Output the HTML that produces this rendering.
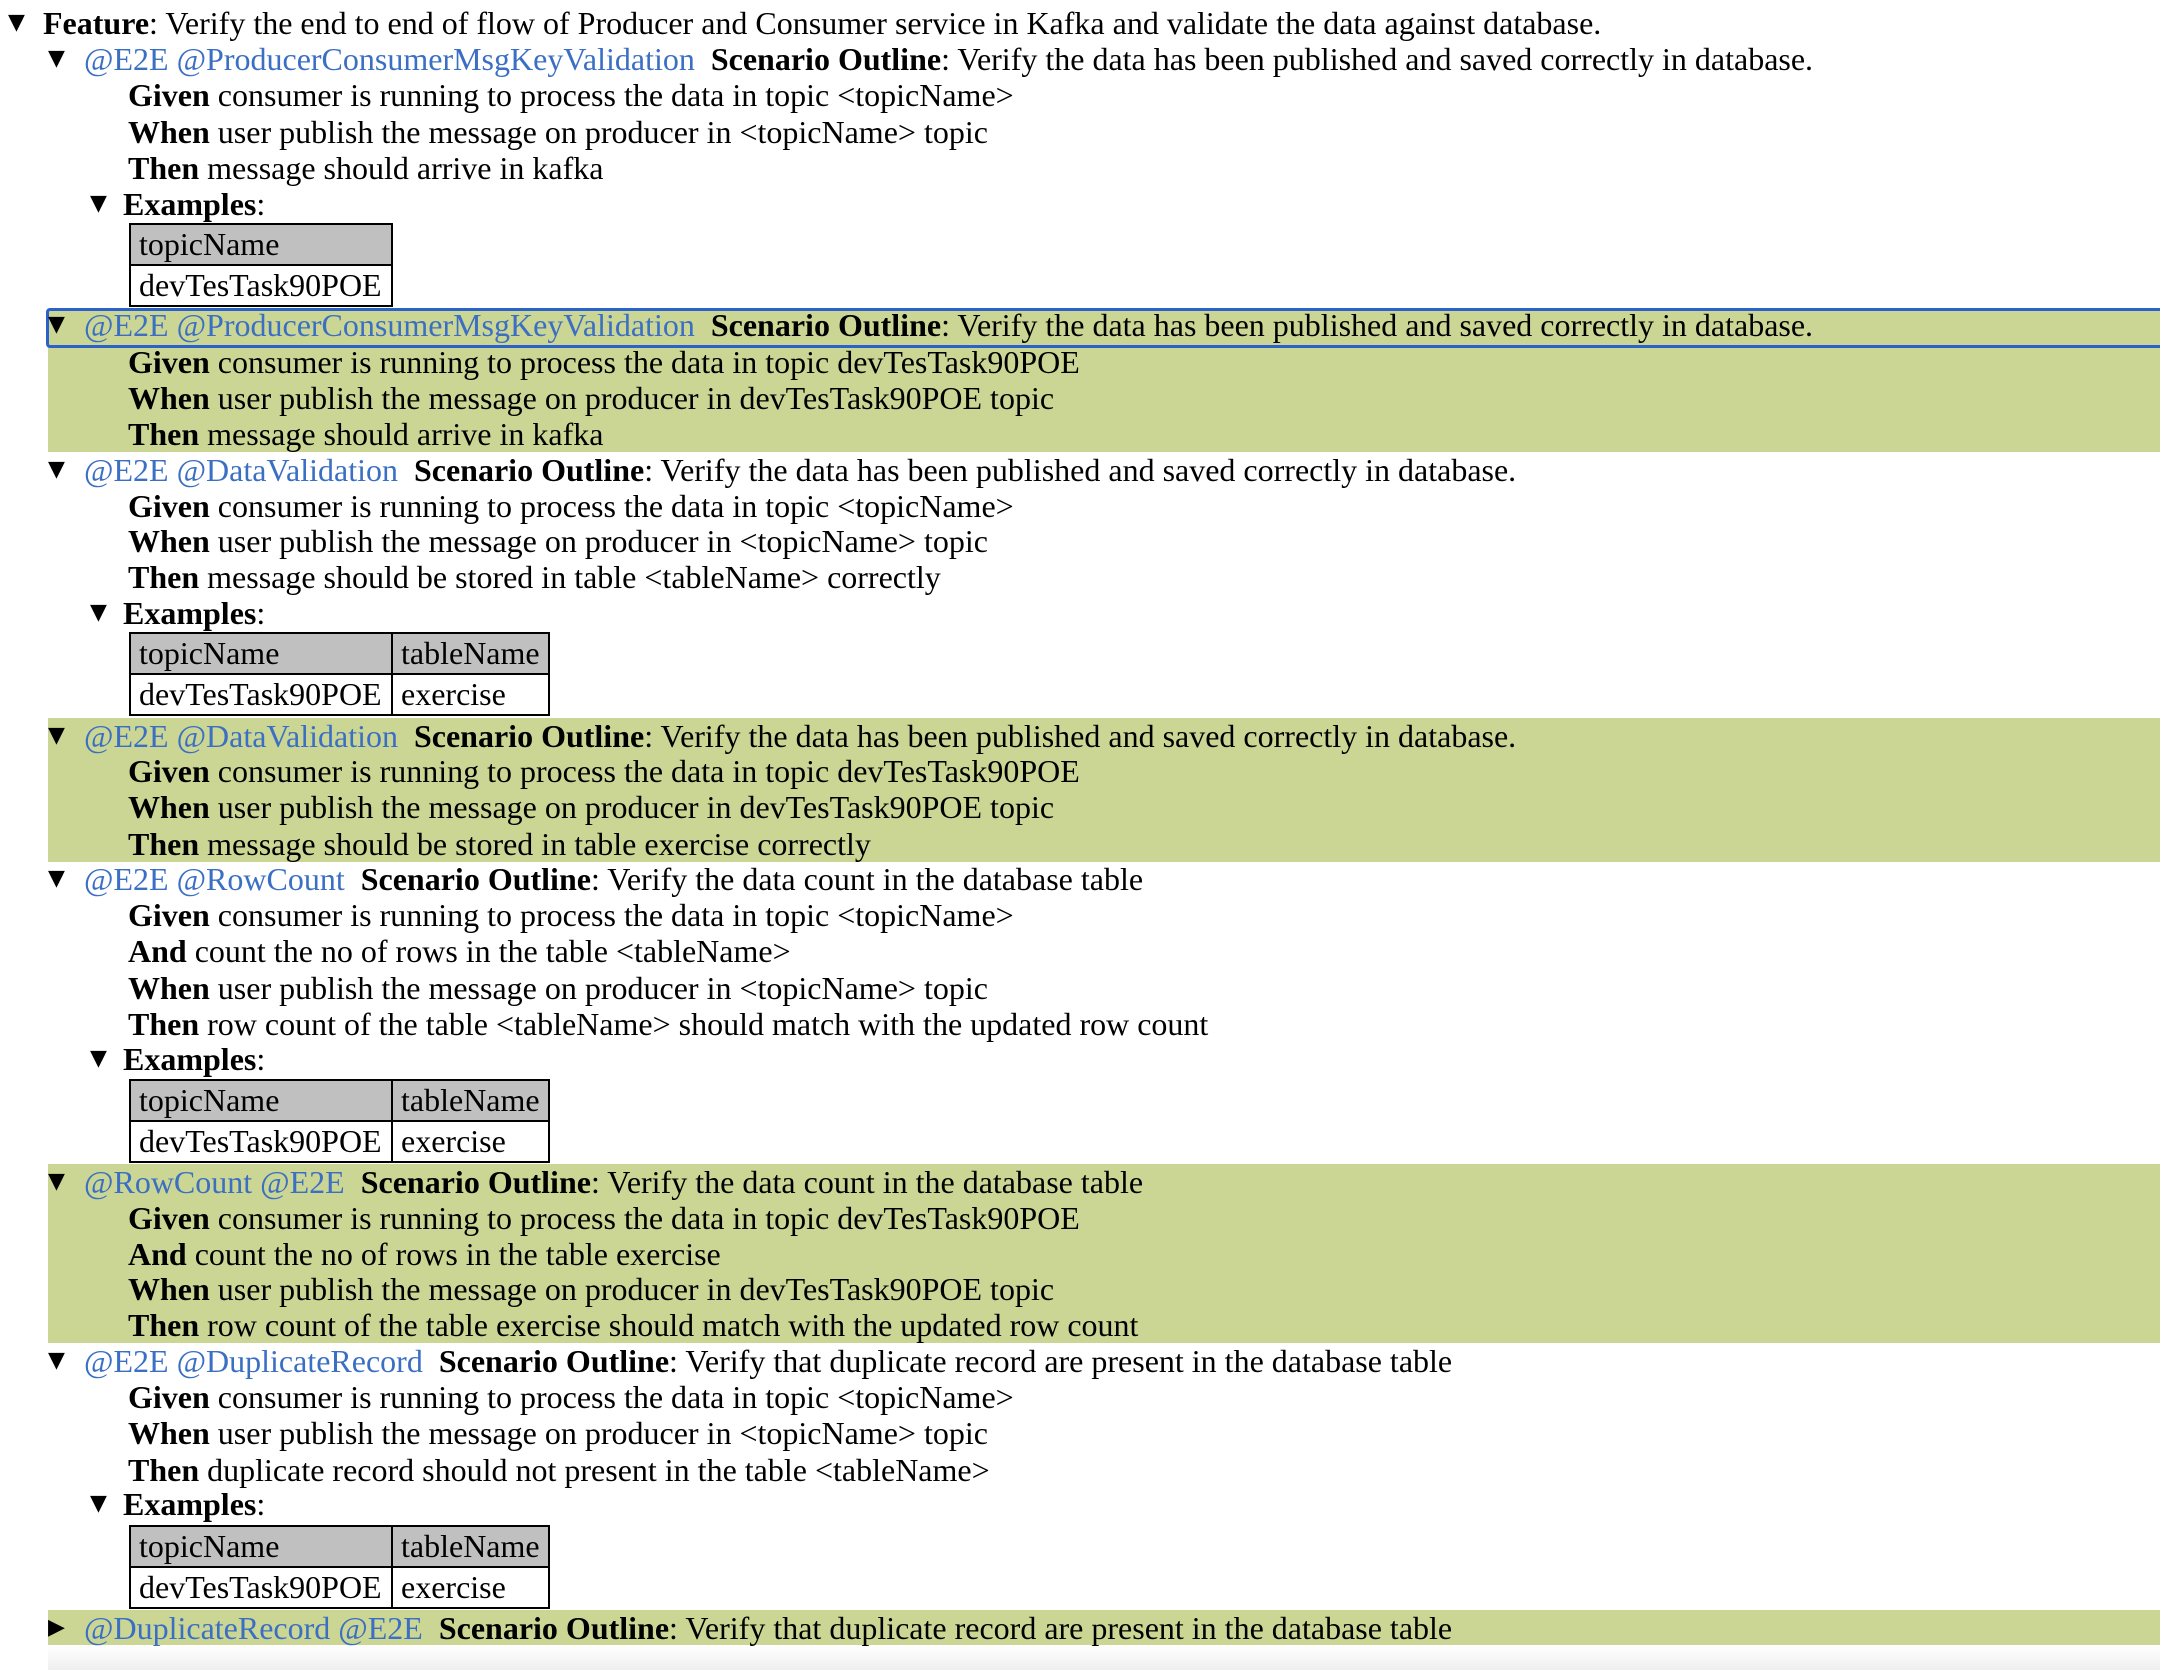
<!DOCTYPE html>
<html><head><meta charset="utf-8"><style>
html,body{margin:0;padding:0;background:#fff;width:2160px;height:1670px;overflow:hidden;position:relative}
body{font-family:"Liberation Serif","Times New Roman",serif;font-size:32px;color:#000}
.ln{position:absolute;height:36px;line-height:36px;white-space:nowrap}
.tri{position:absolute;font-family:"DejaVu Sans",sans-serif;font-size:22px;line-height:36px}
.tag{color:#3b6fc4}
b{font-weight:bold}
.band{position:absolute;left:48px;right:0;background:#cbd694}
table{position:absolute;border-collapse:collapse;left:129px}
td{border:2px solid #000;padding:0 8px;height:39px;line-height:39px;font-size:32px;box-sizing:border-box}
tr.h td{background:#c0c0c0}
</style></head><body>
<div class="band" style="top:309px;height:143px"></div>
<div class="band" style="top:718px;height:144px"></div>
<div class="band" style="top:1164px;height:179px"></div>
<div class="band" style="top:1610px;height:35px"></div>
<div style="position:absolute;left:46px;right:-4px;top:308px;height:34px;border:3px solid #2a62c9;border-radius:4px"></div>
<div style="position:absolute;left:48px;right:0;top:1645px;height:25px;background:linear-gradient(#fff,#efefef)"></div>
<div id="root"></div>
<script>
const root=document.getElementById('root');
const lines=[
[23,'feat','<b>Feature</b>: Verify the end to end of flow of Producer and Consumer service in Kafka and validate the data against database.'],
[59,'scen','<span class="tag">@E2E @ProducerConsumerMsgKeyValidation</span>&nbsp; <b>Scenario Outline</b>: Verify the data has been published and saved correctly in database.'],
[95,'step','<b>Given</b> consumer is running to process the data in topic &lt;topicName&gt;'],
[132,'step','<b>When</b> user publish the message on producer in &lt;topicName&gt; topic'],
[168,'step','<b>Then</b> message should arrive in kafka'],
[204,'ex','<b>Examples</b>:'],
[325,'scen','<span class="tag">@E2E @ProducerConsumerMsgKeyValidation</span>&nbsp; <b>Scenario Outline</b>: Verify the data has been published and saved correctly in database.'],
[362,'step','<b>Given</b> consumer is running to process the data in topic devTesTask90POE'],
[398,'step','<b>When</b> user publish the message on producer in devTesTask90POE topic'],
[434,'step','<b>Then</b> message should arrive in kafka'],
[470,'scen','<span class="tag">@E2E @DataValidation</span>&nbsp; <b>Scenario Outline</b>: Verify the data has been published and saved correctly in database.'],
[506,'step','<b>Given</b> consumer is running to process the data in topic &lt;topicName&gt;'],
[541,'step','<b>When</b> user publish the message on producer in &lt;topicName&gt; topic'],
[577,'step','<b>Then</b> message should be stored in table &lt;tableName&gt; correctly'],
[613,'ex','<b>Examples</b>:'],
[736,'scen','<span class="tag">@E2E @DataValidation</span>&nbsp; <b>Scenario Outline</b>: Verify the data has been published and saved correctly in database.'],
[771,'step','<b>Given</b> consumer is running to process the data in topic devTesTask90POE'],
[807,'step','<b>When</b> user publish the message on producer in devTesTask90POE topic'],
[844,'step','<b>Then</b> message should be stored in table exercise correctly'],
[879,'scen','<span class="tag">@E2E @RowCount</span>&nbsp; <b>Scenario Outline</b>: Verify the data count in the database table'],
[915,'step','<b>Given</b> consumer is running to process the data in topic &lt;topicName&gt;'],
[951,'step','<b>And</b> count the no of rows in the table &lt;tableName&gt;'],
[988,'step','<b>When</b> user publish the message on producer in &lt;topicName&gt; topic'],
[1024,'step','<b>Then</b> row count of the table &lt;tableName&gt; should match with the updated row count'],
[1059,'ex','<b>Examples</b>:'],
[1182,'scen','<span class="tag">@RowCount @E2E</span>&nbsp; <b>Scenario Outline</b>: Verify the data count in the database table'],
[1218,'step','<b>Given</b> consumer is running to process the data in topic devTesTask90POE'],
[1254,'step','<b>And</b> count the no of rows in the table exercise'],
[1289,'step','<b>When</b> user publish the message on producer in devTesTask90POE topic'],
[1325,'step','<b>Then</b> row count of the table exercise should match with the updated row count'],
[1361,'scen','<span class="tag">@E2E @DuplicateRecord</span>&nbsp; <b>Scenario Outline</b>: Verify that duplicate record are present in the database table'],
[1397,'step','<b>Given</b> consumer is running to process the data in topic &lt;topicName&gt;'],
[1433,'step','<b>When</b> user publish the message on producer in &lt;topicName&gt; topic'],
[1470,'step','<b>Then</b> duplicate record should not present in the table &lt;tableName&gt;'],
[1504,'ex','<b>Examples</b>:'],
[1628,'scenc','<span class="tag">@DuplicateRecord @E2E</span>&nbsp; <b>Scenario Outline</b>: Verify that duplicate record are present in the database table']
];
const xText={feat:43,scen:84,scenc:84,step:128,ex:123};
const xTri={feat:8,scen:48,scenc:48,ex:90};
for(const [cy,t,html] of lines){
  if(xTri[t]!==undefined){
    const tr=document.createElement('div');
    tr.className='tri';
    tr.style.left=xTri[t]+'px';tr.style.top=(cy-18)+'px';
    tr.textContent=t==='scenc'?'▶':'▼';
    
    
    root.appendChild(tr);
  }
  const d=document.createElement('div');
  d.className='ln';
  d.style.left=xText[t]+'px';d.style.top=(cy-18)+'px';
  d.innerHTML=html;
  
  
  root.appendChild(d);
}
const tables=[[223,false],[632,true],[1079,true],[1525,true]];
for(const [top,two] of tables){
  const tb=document.createElement('table');
  tb.style.top=top+'px';
  tb.innerHTML=two?'<tr class="h"><td style="width:262px">topicName</td><td style="width:157px">tableName</td></tr><tr><td>devTesTask90POE</td><td>exercise</td></tr>'
    :'<tr class="h"><td style="width:262px">topicName</td></tr><tr><td>devTesTask90POE</td></tr>';
  
  
  root.appendChild(tb);
}
</script>
</body></html>
